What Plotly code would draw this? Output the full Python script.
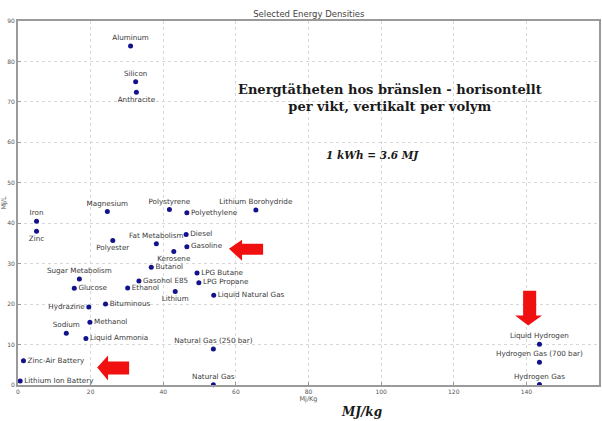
import plotly.graph_objects as go

names = ["Aluminum", "Silicon", "Anthracite", "Iron", "Zinc", "Magnesium", "Polyester",
         "Polystyrene", "Polyethylene", "Lithium Borohydride", "Fat Metabolism", "Diesel",
         "Gasoline", "Kerosene", "Butanol", "Sugar Metabolism", "LPG Butane", "LPG Propane",
         "Liquid Natural Gas", "Lithium", "Gasohol E85", "Ethanol", "Glucose", "Bituminous",
         "Hydrazine", "Methanol", "Sodium", "Liquid Ammonia", "Zinc-Air Battery",
         "Lithium Ion Battery", "Natural Gas (250 bar)", "Natural Gas", "Liquid Hydrogen",
         "Hydrogen Gas (700 bar)", "Hydrogen Gas"]
mj_kg = [31.0, 32.4, 32.6, 5.1, 5.1, 24.6, 26.1, 41.7, 46.5, 65.5, 38.1, 46.3, 46.5, 42.9,
         36.7, 16.9, 49.3, 49.8, 53.9, 43.3, 33.3, 30.2, 15.5, 24.1, 19.5, 19.8, 13.3, 18.7,
         1.5, 0.6, 53.8, 53.8, 143.6, 143.6, 143.6]
mj_l = [83.8, 75.0, 72.4, 40.5, 38.0, 42.9, 35.7, 43.4, 42.6, 43.3, 34.9, 37.2, 34.2, 33.0,
        29.1, 26.2, 27.7, 25.3, 22.2, 23.1, 25.7, 24.0, 23.9, 20.0, 19.3, 15.5, 12.8, 11.5,
        6.0, 1.0, 8.9, 0.04, 10.1, 5.6, 0.1]

x_ticks = [0, 20, 40, 60, 80, 100, 120, 140, 160]
y_ticks = [0, 10, 20, 30, 40, 50, 60, 70, 80, 90]

label_side = {
    "Anthracite": "bottom center", "Zinc": "bottom center", "Polyester": "bottom center",
    "Kerosene": "bottom center", "Lithium": "bottom center",
    "Polyethylene": "middle right", "Diesel": "middle right", "Gasoline": "middle right",
    "Butanol": "middle right", "LPG Butane": "middle right", "LPG Propane": "middle right",
    "Liquid Natural Gas": "middle right", "Gasohol E85": "middle right", "Ethanol": "middle right",
    "Glucose": "middle right", "Bituminous": "middle right", "Methanol": "middle right",
    "Liquid Ammonia": "middle right", "Zinc-Air Battery": "middle right",
    "Lithium Ion Battery": "middle right", "Hydrazine": "middle left",
}
positions = [label_side.get(n, "top center") for n in names]

fig = go.Figure()
fig.add_trace(go.Scatter(
    x=mj_kg, y=mj_l, mode="markers+text", text=names, textposition=positions,
    marker=dict(color="#12128c", size=5),
    textfont=dict(family="DejaVu Sans", size=7.2, color="#3a3a3a"),
    cliponaxis=False, showlegend=False, hoverinfo="skip",
))

red = "#f01010"
arrows = [
    # left arrow near Gasoline
    "M 58.1 33.7 L 61.7 35.9 L 61.7 34.9 L 67.5 34.9 L 67.5 32.2 L 61.7 32.2 L 61.7 30.7 Z",
    # left arrow near Lithium Ion Battery
    "M 21.8 4.3 L 24.8 7.3 L 24.8 5.8 L 30.6 5.8 L 30.6 2.6 L 24.8 2.6 L 24.8 1.1 Z",
    # down arrow above Liquid Hydrogen
    "M 140.5 14.7 L 136.9 17.2 L 139.1 17.2 L 139.1 23.3 L 142.7 23.3 L 142.7 17.2 L 144.3 17.2 Z",
]
for p in arrows:
    fig.add_shape(type="path", path=p, xref="x", yref="y", fillcolor=red,
                  line=dict(color=red, width=0))

serif = "DejaVu Serif"
fig.add_annotation(
    x=0.640, y=0.788, xref="paper", yref="paper", showarrow=False,
    xanchor="center", yanchor="middle",
    text="<b>Energtätheten hos bränslen - horisontellt<br>per vikt, vertikalt per volym</b>",
    font=dict(family=serif, size=13, color="#1a1a1a"), align="center",
)
fig.add_annotation(
    x=0.611, y=0.633, xref="paper", yref="paper", showarrow=False,
    xanchor="center", yanchor="middle",
    text="<b><i>1 kWh = 3.6 MJ</i></b>",
    font=dict(family=serif, size=10.5, color="#1a1a1a"),
)
fig.add_annotation(
    x=0.592, y=-0.073, xref="paper", yref="paper", showarrow=False,
    xanchor="center", yanchor="middle",
    text="<b><i>MJ/kg</i></b>",
    font=dict(family=serif, size=12, color="#1a1a1a"),
)

axis_common = dict(
    showgrid=True, gridcolor="#d8d8d8", griddash="dot", gridwidth=1,
    showline=True, linecolor="#9a9a9a", linewidth=2, mirror=True,
    zeroline=False, ticks="inside", ticklen=3, tickcolor="#999", automargin=False,
    tickfont=dict(family="DejaVu Sans", size=6, color="#555"),
)
fig.update_xaxes(range=[0, 160], tickvals=x_ticks, title=dict(text="Mj/Kg", standoff=2,
                 font=dict(family="DejaVu Sans", size=6.5, color="#555")), **axis_common)
fig.update_yaxes(range=[0, 90], tickvals=y_ticks, title=dict(text="Mj/L", standoff=2,
                 font=dict(family="DejaVu Sans", size=6.5, color="#555")), **axis_common)

fig.update_layout(
    width=602, height=421,
    margin=dict(l=18, r=3, t=21, b=36, autoexpand=False),
    paper_bgcolor="white", plot_bgcolor="white",
    title=dict(text="Selected Energy Densities", x=0.513, xanchor="center", y=0.967,
               yanchor="middle", font=dict(family="DejaVu Sans", size=8.5, color="#444")),
)

fig.write_html("out.html", config={"displayModeBar": False},
               post_script="document.body.style.margin='0';")
